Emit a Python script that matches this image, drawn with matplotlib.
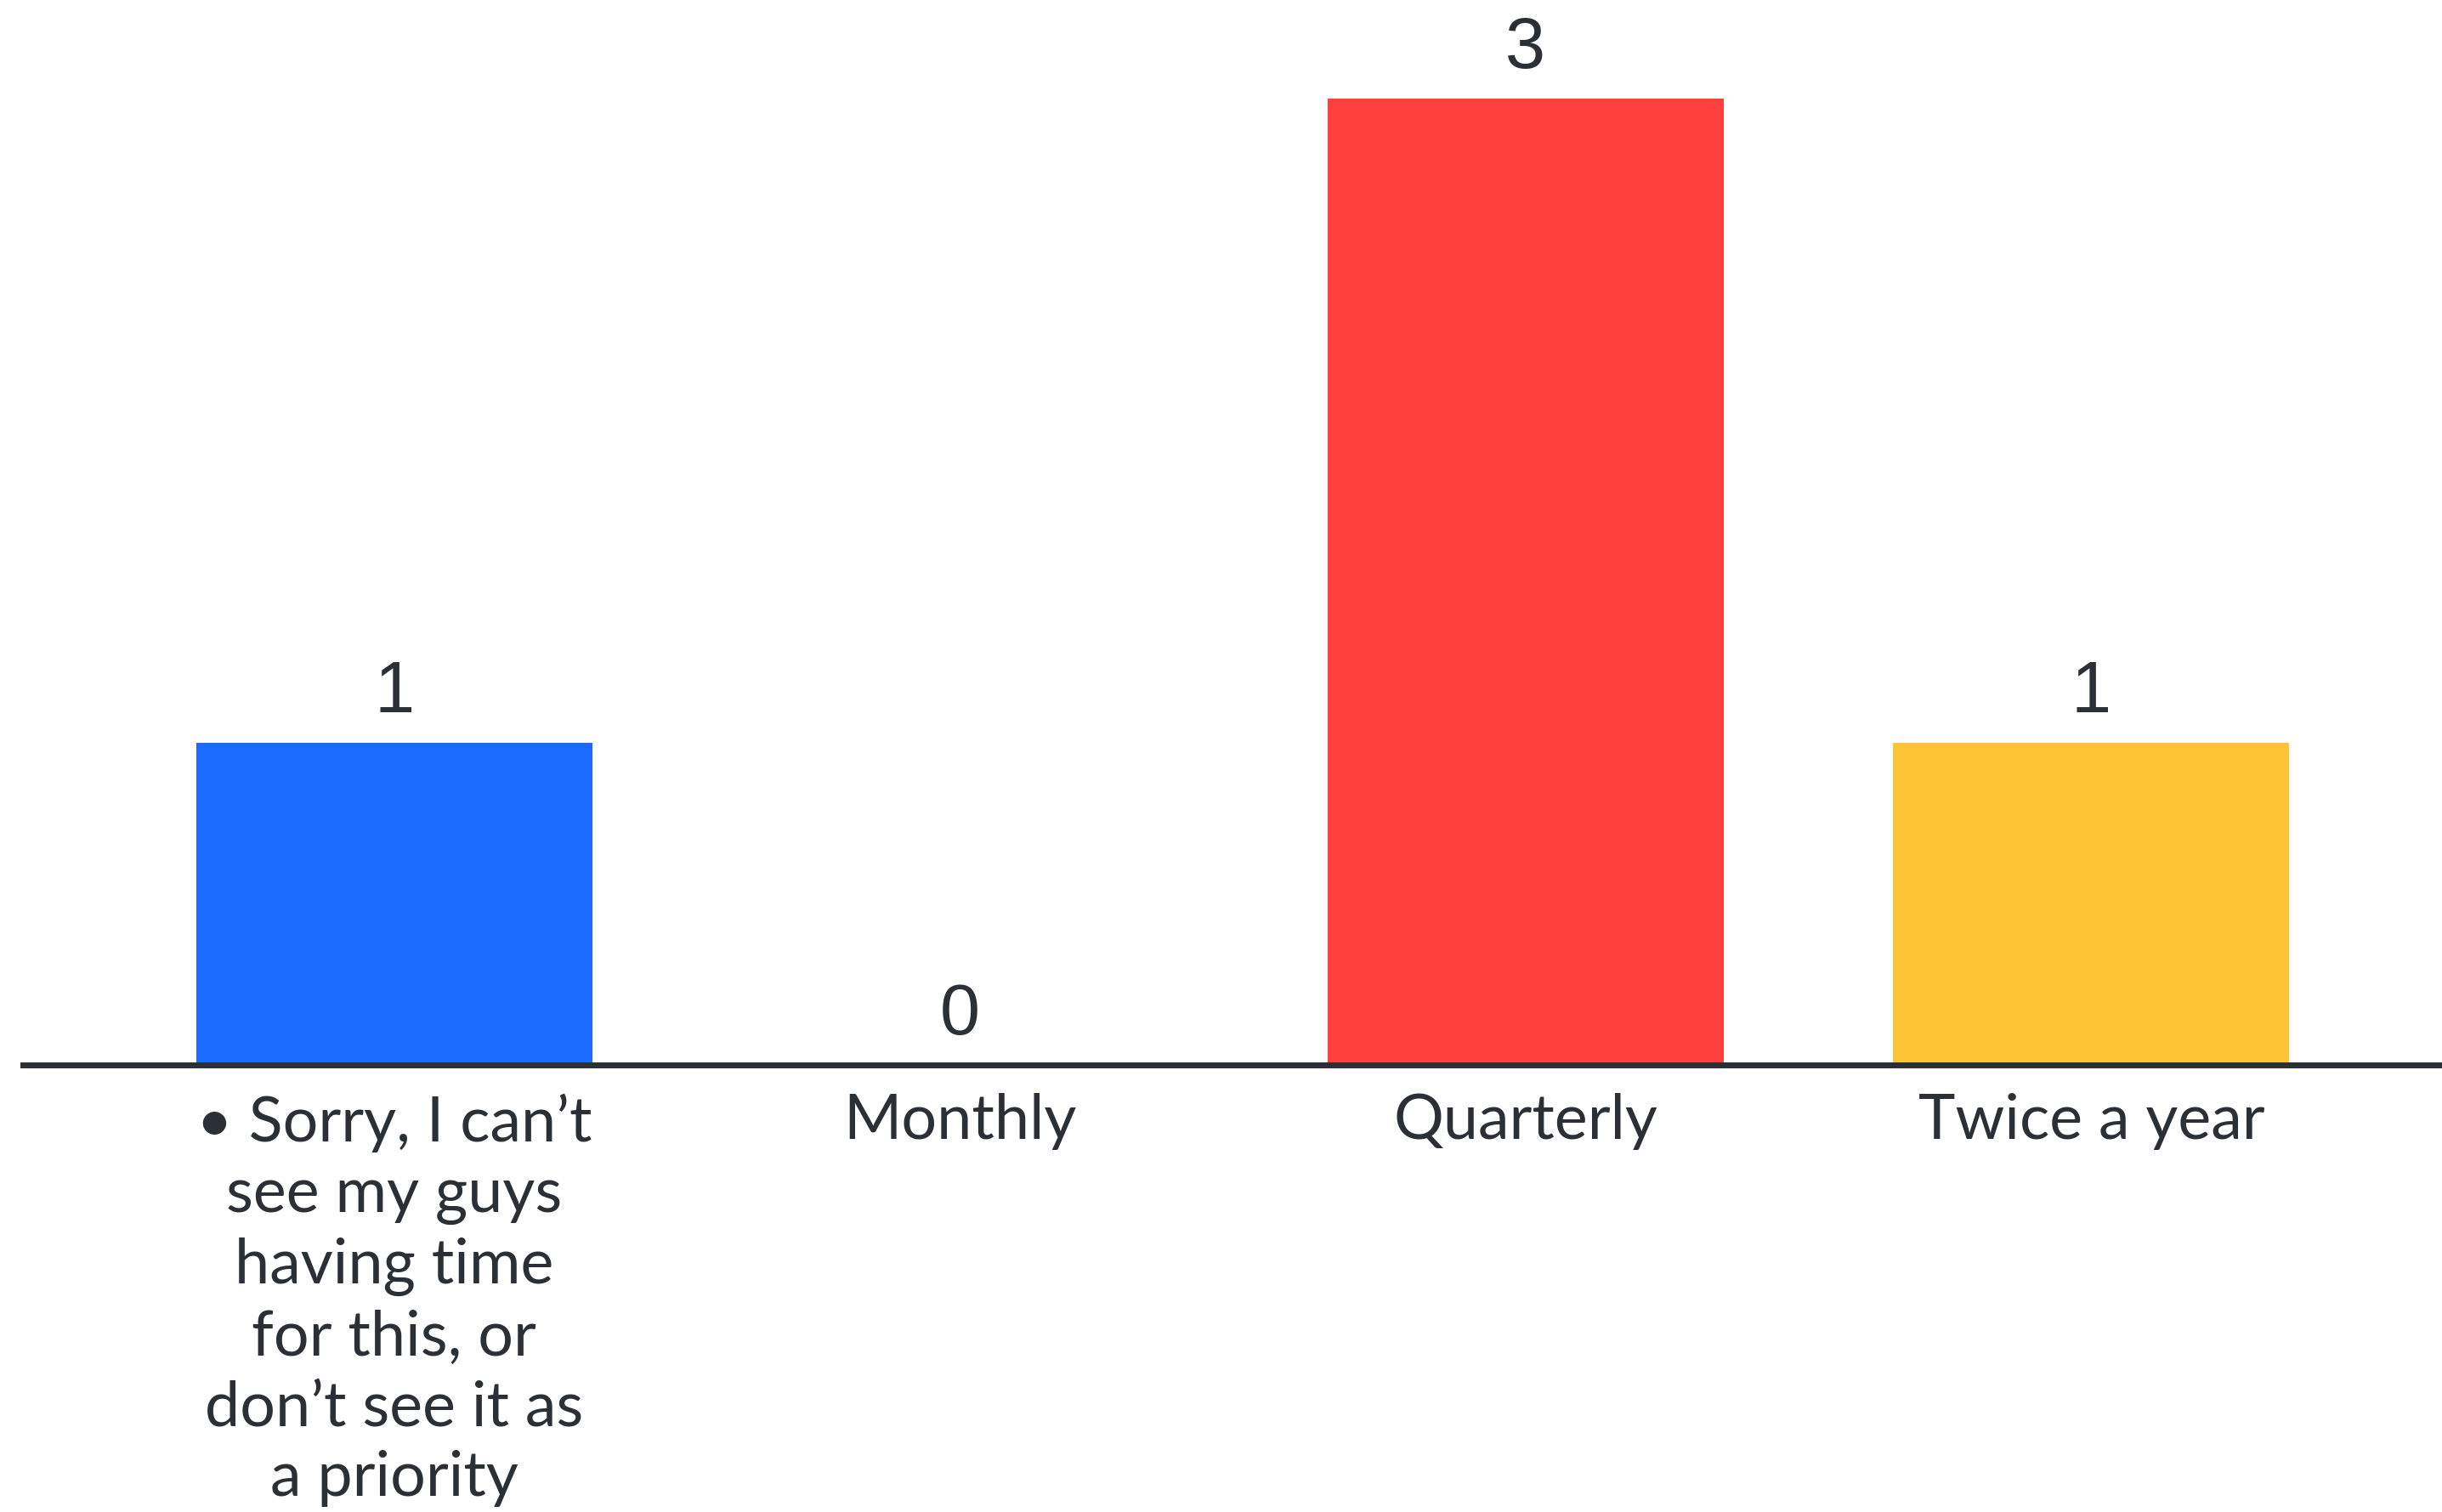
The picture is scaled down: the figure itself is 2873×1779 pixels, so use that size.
import matplotlib
matplotlib.use('Agg')
import matplotlib.pyplot as plt

# Chart data
categories = ["\u2022 Sorry, I can\u2019t\nsee my guys\nhaving time\nfor this, or\ndon\u2019t see it as\na priority",
              "Monthly", "Quarterly", "Twice a year"]
values = [1, 0, 3, 1]
colors = ["#1c6bff", "#9e9e9e", "#ff403d", "#fdc536"]

text_color = "#2b2f36"

fig = plt.figure(figsize=(28.73, 17.79), dpi=100)
ax = fig.add_axes([0.0094, 0.2957, 0.9906, 0.7043])

x = list(range(len(categories)))
bars = ax.bar(x, values, width=0.7, color=colors, zorder=2)

# Value labels above each bar
for rect, v in zip(bars, values):
    ax.annotate(str(v),
                xy=(rect.get_x() + rect.get_width() / 2, rect.get_height()),
                xytext=(0, 13), textcoords="offset points",
                ha="center", va="bottom",
                fontsize=61, color=text_color, family="Liberation Sans")

ax.set_xlim(-0.656, 3.62)
ax.set_ylim(0, 3.306)

ax.set_xticks(x)
ax.set_xticklabels(categories, fontsize=53, color=text_color,
                   family="Lato", linespacing=1.29, multialignment="center")
ax.tick_params(axis="x", length=0, pad=24)
ax.set_yticks([])

for side in ["left", "right", "top"]:
    ax.spines[side].set_visible(False)
ax.spines["bottom"].set_color(text_color)
ax.spines["bottom"].set_linewidth(5)
ax.spines["bottom"].set_zorder(3)

fig.savefig("out.png", dpi=100)
plt.close(fig)
